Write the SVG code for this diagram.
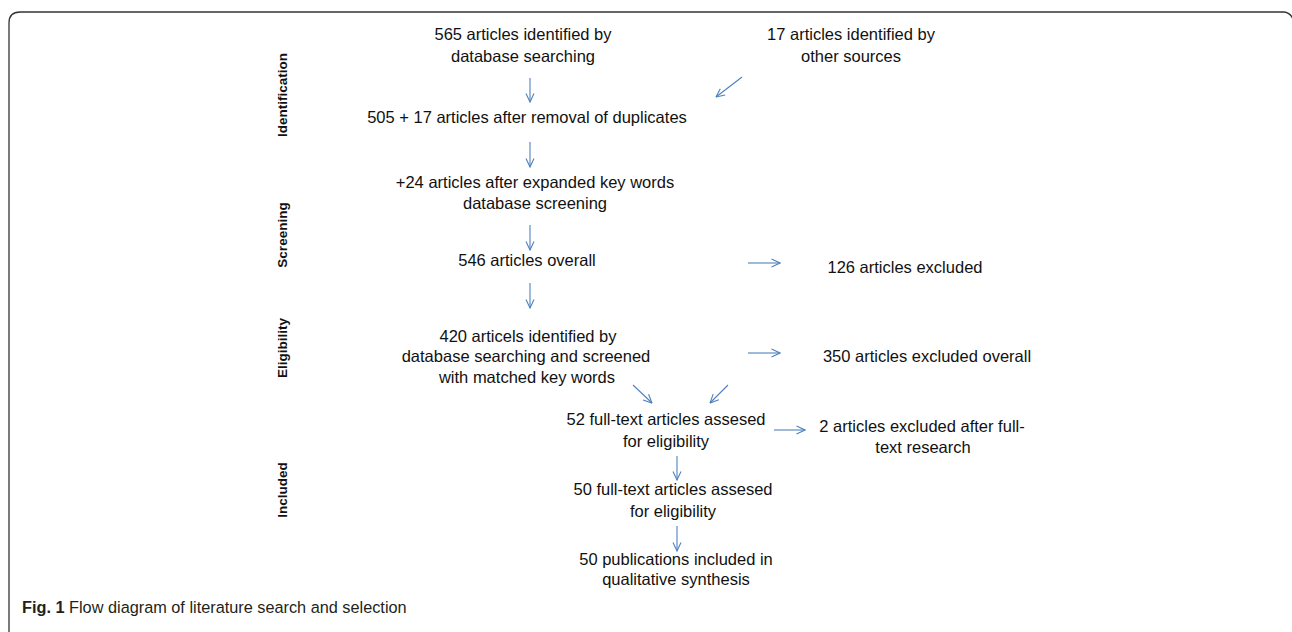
<svg xmlns="http://www.w3.org/2000/svg" width="1292" height="632" viewBox="0 0 1292 632">
<style>
.t{font-family:"Liberation Sans",Arial,sans-serif;font-size:16.5px;fill:#111;text-anchor:middle}
.s{font-family:"Liberation Sans",Arial,sans-serif;font-size:13.5px;font-weight:bold;fill:#111;text-anchor:middle}
.c{fill:none;stroke:#4f81bd;stroke-width:1.1;marker-end:url(#a)}
.cap{font-family:"Liberation Sans",Arial,sans-serif;font-size:16.3px;fill:#231f20}
</style>
<defs>
<marker id="a" viewBox="0 0 10 10" refX="9.5" refY="5" markerWidth="10" markerHeight="10" markerUnits="userSpaceOnUse" orient="auto">
<path d="M1,1 L9.5,5 L1,9" fill="none" stroke="#4f81bd" stroke-width="1.1"/>
</marker>
</defs>
<rect width="1292" height="632" fill="#fff"/>
<path id="frame" d="M9,632 V23 Q9,12 20,12 H1283 Q1290,12 1293,19" fill="none" stroke="#333" stroke-width="1.3"/>

<g id="phase-labels">
<text class="s" transform="translate(287,95) rotate(-90)">Identification</text>
<text class="s" transform="translate(287,235) rotate(-90)">Screening</text>
<text class="s" transform="translate(287,348) rotate(-90)">Eligibility</text>
<text class="s" transform="translate(287,490) rotate(-90)">Included</text>
</g>

<g id="n-db"><text class="t" x="523" y="40">565 articles identified by</text><text class="t" x="523" y="62">database searching</text></g>
<g id="n-other"><text class="t" x="851" y="40">17 articles identified by</text><text class="t" x="851" y="62">other sources</text></g>
<g id="n-dedup"><text class="t" x="527" y="123">505 + 17 articles after removal of duplicates</text></g>
<g id="n-expanded"><text class="t" x="535" y="188">+24 articles after expanded key words</text><text class="t" x="535" y="209">database screening</text></g>
<g id="n-overall"><text class="t" x="527" y="266">546 articles overall</text></g>
<g id="n-excl126"><text class="t" x="905" y="273">126 articles excluded</text></g>
<g id="n-420"><text class="t" x="528" y="342">420 articels identified by</text><text class="t" x="526" y="362">database searching and screened</text><text class="t" x="527" y="383">with matched key words</text></g>
<g id="n-excl350"><text class="t" x="927" y="362">350 articles excluded overall</text></g>
<g id="n-52"><text class="t" x="666" y="425">52 full-text articles assesed</text><text class="t" x="666" y="447">for eligibility</text></g>
<g id="n-excl2"><text class="t" x="922" y="432">2 articles excluded after full-</text><text class="t" x="923" y="453">text research</text></g>
<g id="n-50"><text class="t" x="673" y="495">50 full-text articles assesed</text><text class="t" x="673" y="517">for eligibility</text></g>
<g id="n-pub"><text class="t" x="676" y="565">50 publications included in</text><text class="t" x="676" y="585">qualitative synthesis</text></g>

<g id="connectors">
<line class="c" x1="530" y1="78" x2="530" y2="102"/>
<line class="c" x1="742" y1="77" x2="716" y2="97"/>
<line class="c" x1="530" y1="142" x2="530" y2="167"/>
<line class="c" x1="530" y1="225" x2="530" y2="250"/>
<line class="c" x1="748" y1="263" x2="780" y2="263"/>
<line class="c" x1="530" y1="283" x2="530" y2="308"/>
<line class="c" x1="748" y1="353" x2="780" y2="353"/>
<line class="c" x1="633" y1="385" x2="652" y2="403"/>
<line class="c" x1="728" y1="385" x2="710" y2="403"/>
<line class="c" x1="774" y1="430" x2="805" y2="430"/>
<line class="c" x1="677" y1="456" x2="677" y2="480"/>
<line class="c" x1="677" y1="526" x2="677" y2="551"/>
</g>

<text class="cap" x="22" y="613"><tspan font-weight="bold">Fig. 1</tspan> Flow diagram of literature search and selection</text>
</svg>
